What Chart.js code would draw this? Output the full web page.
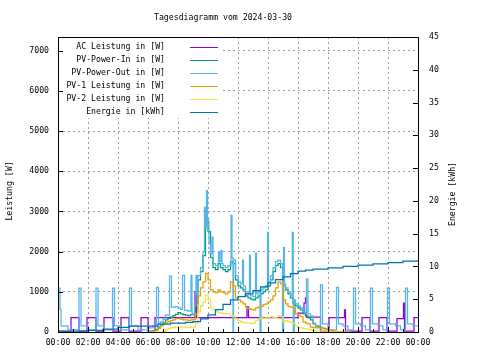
<!DOCTYPE html>
<html>
<head>
<meta charset="utf-8">
<script src="https://cdn.jsdelivr.net/npm/chart.js@4"></script>
<style>
  body { margin: 0; background: #fff; }
  canvas { display: block; }
</style>
</head>
<body>
<canvas id="dayChart" width="480" height="360"></canvas>
<script>
// Tagesdiagramm - stepped lines like gnuplot "with steps"

const titleText = "Tagesdiagramm vom 2024-03-30";
const leftTitle = "Leistung [W]";
const rightTitle = "Energie [kWh]";

const seriesLabels = [
  "AC Leistung in [W]",
  "PV-Power-In in [W]",
  "PV-Power-Out in [W]",
  "PV-1 Leistung in [W]",
  "PV-2 Leistung in [W]",
  "Energie in [kWh]",
];
const seriesColors = ["#9400d3", "#009e73", "#56b4e9", "#e69f00", "#f0e442", "#0072b2"];

const wattTicks = [0, 1000, 2000, 3000, 4000, 5000, 6000, 7000];
const kwhTicks = [0, 5, 10, 15, 20, 25, 30, 35, 40, 45];

// AC Leistung
const acTimes = ["00:00", "00:52", "01:24", "01:56", "02:32", "03:04", "03:40", "04:12", "04:44",
  "05:32", "06:00", "06:28", "09:08", "09:14", "12:36", "12:42", "16:00", "16:24", "16:30",
  "16:34", "17:30", "18:04", "19:06", "19:10", "20:16", "20:48", "21:24", "21:56", "22:36",
  "23:02", "23:06", "23:44", "24:00"];
const acWatts = [20, 360, 20, 360, 20, 360, 20, 360, 20,
  360, 20, 360, 1000, 360, 630, 360, 470, 720, 850,
  370, 20, 360, 550, 20, 360, 20, 360, 20, 330,
  720, 20, 360, 360];

// PV-Power-In, PV-1, PV-2 on a 10 minute grid
const pvTimes = [
  "06:00", "06:10", "06:20", "06:30", "06:40", "06:50",
  "07:00", "07:10", "07:20", "07:30", "07:40", "07:50",
  "08:00", "08:10", "08:20", "08:30", "08:40", "08:50",
  "09:00", "09:10", "09:20", "09:30", "09:40", "09:50",
  "10:00", "10:10", "10:20", "10:30", "10:40", "10:50",
  "11:00", "11:10", "11:20", "11:30", "11:40", "11:50",
  "12:00", "12:10", "12:20", "12:30", "12:40", "12:50",
  "13:00", "13:10", "13:20", "13:30", "13:40", "13:50",
  "14:00", "14:10", "14:20", "14:30", "14:40", "14:50",
  "15:00", "15:10", "15:20", "15:30", "15:40", "15:50",
  "16:00", "16:10", "16:20", "16:30", "16:40", "16:50",
  "17:00", "17:10", "17:20", "17:30", "17:40", "17:50",
  "18:00", "18:10", "18:20", "18:30", "18:40", "18:50",
  "19:00", "19:10", "19:20", "19:30"];
const pvInWatts = [
  0, 0, 30, 60, 120, 180,
  230, 300, 340, 370, 410, 440,
  480, 450, 430, 420, 410, 430,
  450, 700, 1300, 1500, 1900, 2800,
  2500, 1850, 1600, 1550, 1700, 1600,
  1550, 1500, 1550, 1750, 1700, 1300,
  1150, 1100, 1050, 900, 850, 820,
  800, 850, 900, 950, 1000, 1050,
  1150, 1300, 1500, 1650, 1700, 1600,
  1150, 1050, 950, 850, 700, 650,
  600, 550, 450, 400, 350, 300,
  200, 150, 120, 100, 90, 80,
  60, 30, 0, 0, 0, 0,
  0, 0, 0, 0];
const pv1Watts = [
  0, 0, 10, 40, 90, 150,
  200, 230, 260, 280, 300, 330,
  340, 320, 300, 300, 290, 300,
  310, 450, 900, 1100, 1250, 1460,
  1300, 1050, 1000, 980, 1050, 1000,
  980, 950, 1000, 1250, 1150, 850,
  800, 750, 700, 620, 580, 560,
  550, 600, 620, 640, 680, 700,
  750, 800, 900, 1100, 1250, 1200,
  800, 700, 640, 620, 600, 450,
  420, 380, 250, 220, 200, 120,
  110, 100, 100, 90, 80, 80,
  60, 30, 20, 15, 10, 10,
  10, 0, 0, 0];
const pv2Watts = [
  0, 0, 0, 0, 0, 0,
  10, 50, 90, 100, 110, 120,
  130, 120, 120, 110, 110, 120,
  130, 220, 500, 650, 750, 920,
  800, 600, 550, 520, 480, 470,
  460, 450, 450, 400, 380, 320,
  280, 250, 240, 230, 220, 210,
  220, 280, 330, 350, 340, 350,
  370, 380, 360, 370, 400, 380,
  250, 280, 260, 240, 200, 150,
  110, 100, 90, 80, 60, 40,
  30, 30, 30, 30, 20, 20,
  10, 0, 0, 0, 0, 0,
  0, 0, 0, 0];

// PV-Power-Out (spiky)
const outTimes = ["00:00", "00:08", "00:12", "00:40", "01:24", "01:32", "02:00", "02:32", "02:40",
  "03:05", "03:38", "03:46", "04:10", "04:46", "04:54", "05:20", "06:00", "06:20", "06:34",
  "06:42", "06:50", "07:00", "07:10", "07:26", "07:34", "07:50", "08:00", "08:10", "08:18",
  "08:26", "08:40", "08:52", "08:56", "09:06", "09:12", "09:16", "09:20", "09:30", "09:40",
  "09:46", "09:50", "09:54", "09:58", "10:04", "10:10", "10:16", "10:20", "10:30", "10:42",
  "10:46", "10:52", "10:56", "11:00", "11:10", "11:20", "11:32", "11:36", "11:40", "11:42",
  "11:50", "12:00", "12:10", "12:18", "12:22", "12:30", "12:40", "12:46", "12:50", "13:00",
  "13:10", "13:14", "13:20", "13:28", "13:32", "13:40", "13:50", "13:58", "14:02", "14:10",
  "14:20", "14:30", "14:40", "14:50", "14:58", "15:02", "15:06", "15:10", "15:20", "15:30",
  "15:37", "15:41", "15:45", "15:50", "16:00", "16:10", "16:20", "16:30", "16:34", "16:40",
  "16:50", "17:00", "17:10", "17:30", "17:38", "18:00", "18:34", "18:42", "19:00", "19:20",
  "19:42", "19:50", "20:10", "20:30", "20:50", "20:58", "21:20", "21:40", "21:58", "22:06",
  "22:30", "22:50", "23:10", "23:18", "23:40", "24:00"];
const outWatts = [1090, 570, 150, 50, 1090, 150, 50, 1090, 150,
  50, 1090, 150, 50, 1090, 150, 50, 100, 150, 1110,
  200, 250, 320, 420, 1390, 620, 630, 600, 560, 1410,
  540, 520, 1410, 430, 650, 1410, 950, 1400, 1600, 2000,
  3100, 2600, 3520, 2750, 2200, 1950, 2360, 1700, 1650, 2000,
  1750, 2030, 1700, 1650, 1600, 1650, 2900, 1850, 0, 1800,
  1400, 1250, 1200, 1790, 1150, 1000, 950, 1910, 900, 880,
  1960, 950, 1000, 0, 1050, 1100, 1150, 2480, 1250, 1400,
  1600, 1750, 1790, 1700, 0, 2100, 1200, 1100, 1000, 900,
  2480, 0, 800, 700, 650, 600, 500, 450, 1320, 450,
  400, 220, 150, 1170, 200, 50, 1110, 200, 150, 50,
  1090, 200, 150, 50, 1090, 200, 150, 50, 1090, 200,
  150, 50, 1090, 200, 150, 150];

// Energie (cumulative)
const energyTimes = ["00:00", "01:00", "02:00", "03:00", "04:00", "04:45", "06:00", "06:40", "07:30",
  "08:30", "09:00", "09:30", "10:00", "10:30", "11:00", "11:30", "12:00", "12:30", "13:00",
  "13:30", "14:00", "14:30", "15:00", "15:30", "16:00", "16:30", "17:00", "18:00", "19:00",
  "20:00", "21:00", "22:00", "23:00", "24:00"];
const energyKwh = [0.1, 0.15, 0.25, 0.45, 0.7, 0.9, 0.9, 1.2, 1.35,
  1.45, 1.6, 2.0, 2.6, 3.4, 4.2, 4.9, 5.4, 5.8, 6.3,
  6.9, 7.5, 8.0, 8.4, 8.9, 9.3, 9.45, 9.6, 9.8, 10.0,
  10.2, 10.4, 10.6, 10.8, 11.0];

const FONT = "DejaVu Sans Mono";
const FSIZE = 8.2;

const toHours = t => {
  const [h, m] = t.split(":").map(Number);
  return h + m / 60;
};
const pairs = (times, values) => times.map((t, i) => ({ x: toHours(t), y: values[i] }));
const two = n => String(n).padStart(2, "0");

function series(idx, times, values, axis, order) {
  return {
    label: seriesLabels[idx],
    data: pairs(times, values),
    borderColor: seriesColors[idx],
    backgroundColor: seriesColors[idx],
    borderWidth: 1.25,
    pointRadius: 0,
    stepped: true,
    fill: false,
    yAxisID: axis,
    order: order,
  };
}

// extra drawing: legend box, frame, inward ticks, titles
const decorations = {
  id: "decorations",
  beforeDatasetsDraw(chart) {
    const { ctx, chartArea: a } = chart;
    ctx.save();
    ctx.fillStyle = "#fff";
    ctx.fillRect(a.left + 1, a.top + 1, 163, 80);
    ctx.restore();
  },
  afterDraw(chart) {
    const { ctx, chartArea: a, scales } = chart;
    ctx.save();
    ctx.font = FSIZE + "px '" + FONT + "'";
    ctx.fillStyle = "#000";
    ctx.textBaseline = "middle";

    // legend
    chart.data.datasets.forEach((ds, i) => {
      const y = 47 + i * 13;
      ctx.textAlign = "right";
      ctx.fillStyle = "#000";
      ctx.fillText(ds.label, 165, y);
      ctx.strokeStyle = ds.borderColor;
      ctx.lineWidth = 1;
      ctx.beginPath();
      ctx.moveTo(190, y + 0.5);
      ctx.lineTo(218, y + 0.5);
      ctx.stroke();
    });

    // frame
    ctx.strokeStyle = "#000";
    ctx.lineWidth = 1;
    ctx.strokeRect(a.left + 0.5, a.top + 0.5, a.right - a.left, a.bottom - a.top);

    // inward ticks
    ctx.beginPath();
    scales.y.ticks.forEach(t => {
      const y = Math.round(scales.y.getPixelForValue(t.value)) + 0.5;
      ctx.moveTo(a.left, y);
      ctx.lineTo(a.left + 5, y);
    });
    scales.y2.ticks.forEach(t => {
      const y = Math.round(scales.y2.getPixelForValue(t.value)) + 0.5;
      ctx.moveTo(a.right, y);
      ctx.lineTo(a.right - 5, y);
    });
    for (let h = 0; h <= 24; h++) {
      const x = Math.round(scales.x.getPixelForValue(h)) + 0.5;
      ctx.moveTo(x, a.bottom);
      ctx.lineTo(x, a.bottom - (h % 2 === 0 ? 5 : 3));
    }
    ctx.stroke();

    // chart title
    ctx.textAlign = "left";
    ctx.fillStyle = "#000";
    ctx.fillText(titleText, 154, 18);

    // axis titles
    ctx.textAlign = "center";
    ctx.save();
    ctx.translate(10, 191);
    ctx.rotate(-Math.PI / 2);
    ctx.fillText(leftTitle, 0, 0);
    ctx.restore();
    ctx.save();
    ctx.translate(453, 194);
    ctx.rotate(-Math.PI / 2);
    ctx.fillText(rightTitle, 0, 0);
    ctx.restore();

    ctx.restore();
  },
};

Chart.defaults.font.family = FONT;
Chart.defaults.font.size = FSIZE;
Chart.defaults.color = "#000";

const gridStyle = { color: "#a0a0a0", lineWidth: 1, drawTicks: false };
const borderStyle = { display: false, dash: [2, 3] };

const dayChart = new Chart(document.getElementById("dayChart"), {
  type: "line",
  data: {
    datasets: [
      series(0, acTimes, acWatts, "y", 6),
      series(1, pvTimes, pvInWatts, "y", 5),
      series(2, outTimes, outWatts, "y", 4),
      series(3, pvTimes, pv1Watts, "y", 3),
      series(4, pvTimes, pv2Watts, "y", 2),
      series(5, energyTimes, energyKwh, "y2", 1),
    ],
  },
  options: {
    responsive: false,
    animation: false,
    devicePixelRatio: 1,
    layout: { padding: { top: 37, left: 0, right: 0, bottom: 0 } },
    plugins: {
      legend: { display: false },
      title: { display: false },
      tooltip: { enabled: false },
    },
    scales: {
      x: {
        type: "linear",
        min: 0,
        max: 24,
        grid: gridStyle,
        border: borderStyle,
        ticks: {
          stepSize: 2,
          autoSkip: false,
          maxRotation: 0,
          padding: 6,
          callback: v => two(v % 24) + ":00",
        },
        afterFit: s => { s.height = 28; },
      },
      y: {
        position: "left",
        min: 0,
        max: 7340,
        grid: gridStyle,
        border: borderStyle,
        ticks: { padding: 9, callback: v => String(v) },
        afterBuildTicks: s => { s.ticks = wattTicks.map(v => ({ value: v })); },
        afterFit: s => { s.width = 58; },
      },
      y2: {
        position: "right",
        min: 0,
        max: 45,
        grid: { display: false, drawTicks: false },
        border: { display: false },
        ticks: { padding: 11, callback: v => String(v) },
        afterBuildTicks: s => { s.ticks = kwhTicks.map(v => ({ value: v })); },
        afterFit: s => { s.width = 62; },
      },
    },
  },
  plugins: [decorations],
});
</script>
</body>
</html>
